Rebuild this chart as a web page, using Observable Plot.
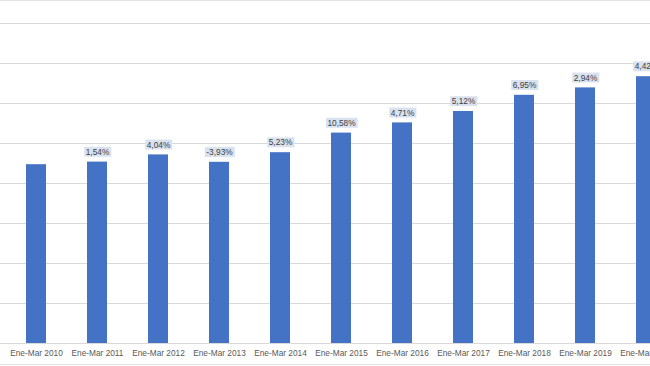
<!DOCTYPE html>
<html><head><meta charset="utf-8">
<script src="https://cdn.jsdelivr.net/npm/d3@7"></script>
<script src="https://cdn.jsdelivr.net/npm/@observablehq/plot@0.6"></script>
<style>
html,body{margin:0;padding:0;background:#fff;overflow:hidden}
#chart{position:relative;width:650px;height:366px;overflow:hidden}
#chart::before,#chart::after{content:"";position:absolute;left:0;right:0;height:1px;background:#e3e3e3;z-index:2}
#chart::before{top:0}
#chart::after{top:364px}
</style></head>
<body><div id="chart"></div>
<script>
const categories = ["Ene-Mar 2010","Ene-Mar 2011","Ene-Mar 2012","Ene-Mar 2013","Ene-Mar 2014","Ene-Mar 2015","Ene-Mar 2016","Ene-Mar 2017","Ene-Mar 2018","Ene-Mar 2019","Ene-Mar 2020"];
const values = [4470, 4535, 4715, 4530, 4770, 5260, 5515, 5800, 6205, 6390, 6670];
const pctLabels = ["", "1,54%", "4,04%", "-3,93%", "5,23%", "10,58%", "4,71%", "5,12%", "6,95%", "2,94%", "4,42%"];
const yTicks = [0,1000,2000,3000,4000,5000,6000,7000,8000];

const data = categories.map((c,i)=>({cat:c, value:values[i], label:pctLabels[i]}));

const plot = Plot.plot({
  width: 650,
  height: 366,
  marginTop: 0,
  marginBottom: 23,
  marginLeft: 0,
  marginRight: 0,
  style: {fontFamily: "'Liberation Sans', Arial, sans-serif", fontSize: "8.3px", color: "#595959", background: "#fff"},
  x: {domain: categories, range: [1, 681], paddingInner: 0.676, paddingOuter: 0.338, align: 0.5, tickSize: 0, tickPadding: 7, label: null},
  y: {domain: [0, 8000], range: [343, 23], axis: null},
  marks: [
    Plot.gridY(yTicks, {stroke: "#d9d9d9", strokeOpacity: 1}),
    Plot.barY(data, {x: "cat", y: "value", fill: "#4472c4"}),
    Plot.text(data.filter(d => d.label), {x: "cat", y: "value", text: "label", dy: -10, lineAnchor: "middle", fill: "#404040"})
  ]
});
document.getElementById("chart").append(plot);
const ns = "http://www.w3.org/2000/svg";
plot.querySelectorAll('g[aria-label="text"] text').forEach(t => {
  const b = t.getBBox();
  const r = document.createElementNS(ns, "rect");
  r.setAttribute("x", b.x - 1.5);
  r.setAttribute("y", b.y);
  r.setAttribute("width", b.width + 3);
  r.setAttribute("height", b.height);
  r.setAttribute("fill", "#dae2ef");
  const tr = t.getAttribute("transform");
  if (tr) r.setAttribute("transform", tr);
  t.parentNode.insertBefore(r, t);
});
</script>
</body></html>
